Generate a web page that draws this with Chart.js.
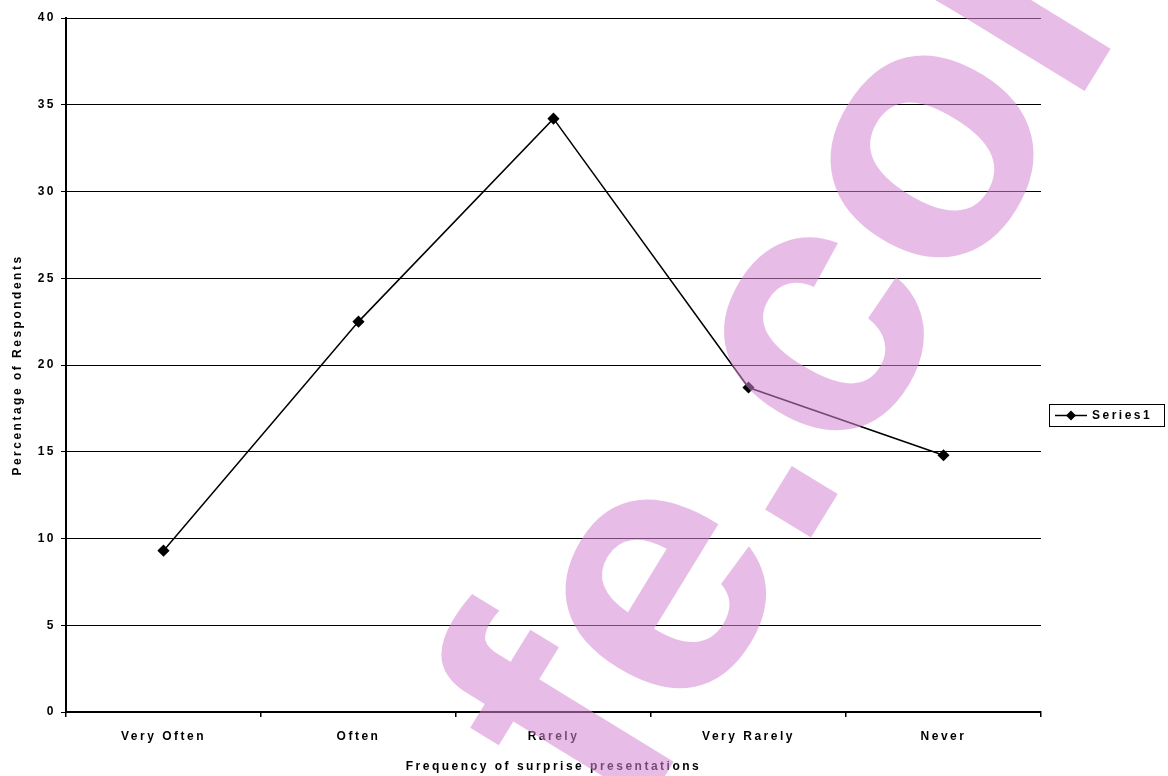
<!DOCTYPE html>
<html>
<head>
<meta charset="utf-8">
<script src="https://cdn.jsdelivr.net/npm/chart.js@4"></script>
<style>
  html, body { margin: 0; padding: 0; background: #fff; }
  #wrap { width: 1168px; height: 776px; position: relative; }
</style>
</head>
<body>
<div id="wrap"><canvas id="chart"></canvas></div>
<script>
const categories = ['Very Often', 'Often', 'Rarely', 'Very Rarely', 'Never'];
const series1 = [9.3, 22.5, 34.2, 18.7, 14.8];
const seriesName = 'Series1';
const yTicks = [0, 5, 10, 15, 20, 25, 30, 35, 40];

const FONT = 'Liberation Sans, Arial, sans-serif';
const SPACING = '2.5px';

// canvas letterSpacing gets reset on resize, so set it again before layout and draw
const spacing = {
    id: 'spacing',
    beforeLayout(chart) { chart.ctx.letterSpacing = SPACING; },
    beforeDraw(chart) { chart.ctx.letterSpacing = SPACING; }
};

const legendBox = {
    id: 'legendBox',
    afterDraw(chart) {
        const ctx = chart.ctx;
        const ds = chart.data.datasets[0];
        const x = 1049, y = 404, w = 115, h = 22;
        ctx.save();
        ctx.strokeStyle = '#000';
        ctx.lineWidth = 1;
        ctx.strokeRect(x + 0.5, y + 0.5, w, h);
        const cy = y + h / 2 + 0.5;
        ctx.beginPath();
        ctx.moveTo(x + 6, cy);
        ctx.lineTo(x + 38, cy);
        ctx.lineWidth = ds.borderWidth;
        ctx.stroke();
        ctx.beginPath();
        ctx.moveTo(x + 22, cy - 5);
        ctx.lineTo(x + 27, cy);
        ctx.lineTo(x + 22, cy + 5);
        ctx.lineTo(x + 17, cy);
        ctx.closePath();
        ctx.fillStyle = '#000';
        ctx.fill();
        ctx.letterSpacing = SPACING;
        ctx.font = 'bold 12px ' + FONT;
        ctx.textBaseline = 'middle';
        ctx.fillText(ds.label, x + 43, cy);
        ctx.restore();
    }
};

// pink scan watermark laid over the whole picture
const watermark = {
    id: 'watermark',
    afterDraw(chart) {
        const ctx = chart.ctx;
        ctx.save();
        ctx.translate(630, 833);
        ctx.rotate(-58.5 * Math.PI / 180);
        ctx.font = 'bold 362px ' + FONT;
        ctx.letterSpacing = '0px';
        ctx.fillStyle = 'rgba(212,135,212,0.55)';
        ctx.textAlign = 'left';
        ctx.textBaseline = 'alphabetic';
        ctx.fillText('fe.com', 0, 0);
        ctx.restore();
    }
};

new Chart(document.getElementById('chart'), {
    type: 'line',
    data: {
        labels: categories,
        datasets: [{
            label: seriesName,
            data: series1,
            borderColor: '#000',
            backgroundColor: '#000',
            borderWidth: 1.5,
            pointStyle: 'rectRot',
            pointRadius: 5,
            pointHoverRadius: 5,
            tension: 0
        }]
    },
    options: {
        responsive: true,
        maintainAspectRatio: false,
        animation: false,
        events: [],
        layout: { padding: { top: 18, right: 127, bottom: 0, left: 0 } },
        plugins: {
            legend: { display: false },
            tooltip: { enabled: false }
        },
        scales: {
            x: {
                offset: true,
                grid: {
                    offset: true,
                    drawOnChartArea: true,
                    color: c => c.index === categories.length ? '#000' : 'rgba(0,0,0,0)',
                    tickColor: '#000',
                    tickLength: 5,
                    lineWidth: 1.5
                },
                border: { color: '#000', width: 1.5 },
                ticks: {
                    color: '#000',
                    font: { family: FONT, size: 12, weight: 'bold' },
                    padding: 12,
                    maxRotation: 0
                },
                title: {
                    display: true,
                    text: 'Frequency of surprise presentations',
                    color: '#000',
                    font: { family: FONT, size: 12, weight: 'bold' },
                    padding: { top: 6, bottom: 2 }
                },
                afterFit(scale) { scale.height = 64; }
            },
            y: {
                min: 0,
                max: 40,
                afterBuildTicks(scale) { scale.ticks = yTicks.map(v => ({ value: v })); },
                grid: {
                    color: '#000',
                    tickColor: '#000',
                    tickLength: 5,
                    lineWidth: 1
                },
                border: { color: '#000', width: 2 },
                ticks: {
                    color: '#000',
                    font: { family: FONT, size: 12, weight: 'bold' },
                    padding: 5
                },
                title: {
                    display: true,
                    text: 'Percentage of Respondents',
                    color: '#000',
                    font: { family: FONT, size: 12, weight: 'bold' },
                    padding: { top: 10, bottom: 4 }
                },
                afterFit(scale) { scale.width = 66; }
            }
        }
    },
    plugins: [spacing, legendBox, watermark]
});
</script>
</body>
</html>
